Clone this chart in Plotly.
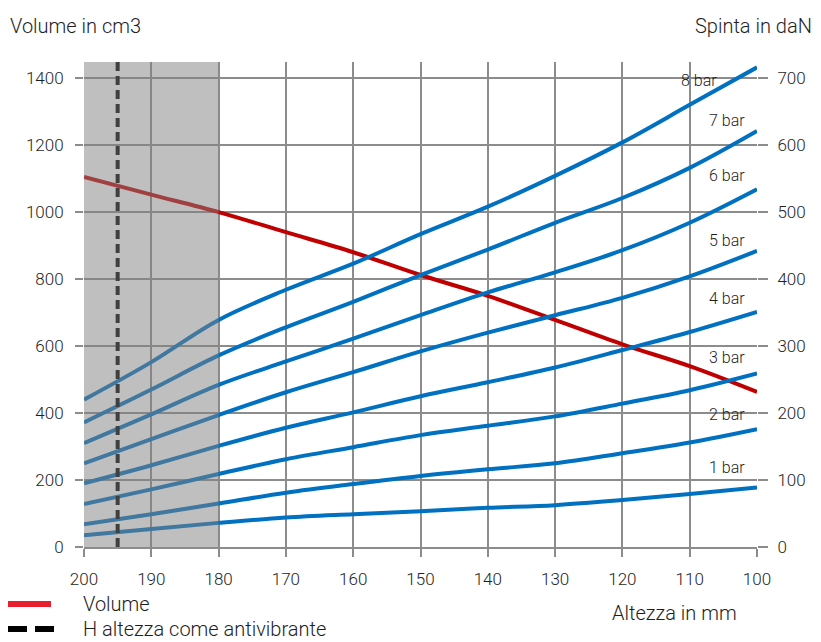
import plotly.graph_objects as go

# ---------------- data ----------------
altezza = [200, 190, 180, 170, 160, 150, 140, 130, 120, 110, 100]
volume = [1105, 1052, 1000, 940, 880, 812, 750, 678, 605, 540, 463]

bar_names = ["1 bar", "2 bar", "3 bar", "4 bar", "5 bar", "6 bar", "7 bar", "8 bar"]
spinta_1 = [17.5, 27, 36, 44, 49, 53.5, 58.5, 62.5, 70, 79, 89]
spinta_2 = [34, 49, 65, 81, 94, 106, 116, 125, 140, 156, 176]
spinta_3 = [64, 86, 109, 131, 149, 167, 181, 195, 214, 234, 259]
spinta_4 = [95, 122, 151, 178, 201, 225, 246, 268, 294, 321, 351]
spinta_5 = [125, 161, 197, 231, 261, 292, 320, 346, 372, 404, 442]
spinta_6 = [155, 198, 242, 277, 311, 346, 380, 410, 443, 484, 534]
spinta_7 = [186, 235, 286, 328, 366, 406, 444, 484, 521, 566, 621]
spinta_8 = [220, 276, 339, 384, 423, 467, 508, 554, 604, 660, 716]
spinta = [spinta_1, spinta_2, spinta_3, spinta_4, spinta_5, spinta_6, spinta_7, spinta_8]

h_antivibrante = 195
zona_x = [200, 180]

x_ticks = [200, 190, 180, 170, 160, 150, 140, 130, 120, 110, 100]
y_ticks = [0, 200, 400, 600, 800, 1000, 1200, 1400]
y2_ticks = [0, 100, 200, 300, 400, 500, 600, 700]

label_x = [101.5, 101.5, 101.5, 101.5, 101.5, 101.5, 101.5, 105.6]
label_y = [236, 397, 567, 743, 916, 1110, 1272, 1394]  # placement of the "n bar" labels

# ---------------- style ----------------
FAM = "Roboto"
TXT = "#1e1e1e"
GRID = "#8c8c8c"
BLUE = "#0070c0"
RED = "#c00000"
Y_MAX = 1448
WEIGHT = 300

# page has an 8px body margin: figure is drawn at (8, 8)
OFF = 8
W, H = 821 - OFF, 642 - OFF
L, R, T, B = 84 - OFF, 64, 62 - OFF, 95
pw, ph = W - L - R, H - T - B


def px2paper(px, py):
    """screen pixel -> paper coordinate"""
    return (px - OFF - L) / pw, (H - B - (py - OFF)) / ph


def fnt(size):
    return dict(family=FAM, size=size, color=TXT, weight=WEIGHT)


fig = go.Figure()

for name, vals in zip(bar_names, spinta):
    fig.add_trace(go.Scatter(x=altezza, y=vals, yaxis="y2", mode="lines", name=name,
                             line=dict(color=BLUE, width=4, shape="spline", smoothing=1.0),
                             showlegend=False))

fig.add_trace(go.Scatter(x=altezza, y=volume, mode="lines", name="Volume",
                         line=dict(color=RED, width=4, shape="spline", smoothing=1.0),
                         showlegend=False))

# dashed antivibration height and shaded zone (shaded zone drawn above the lines)
fig.add_shape(type="line", x0=h_antivibrante, x1=h_antivibrante, xref="x",
              y0=0, y1=1, yref="y domain", layer="above",
              line=dict(color="black", width=4, dash="9px,5px"))
fig.add_shape(type="rect", x0=zona_x[0], x1=zona_x[1], xref="x",
              y0=0, y1=1, yref="y domain", layer="above",
              fillcolor="rgba(128,128,128,0.5)", line=dict(width=0))

# bar labels
for name, lx, ly in zip(bar_names, label_x, label_y):
    fig.add_annotation(x=lx, y=ly, xref="x", yref="y", text=name, showarrow=False,
                       xanchor="right", yanchor="middle", font=fnt(16))

ann_common = dict(showarrow=False, xref="paper", yref="paper", yanchor="middle")
title_font = fnt(20)

for txt, (px, py), anchor in [("Volume in cm3", (8, 26), "left"),
                               ("Spinta in daN", (814, 26), "right"),
                               ("Altezza in mm", (674, 613), "center")]:
    xx, yy = px2paper(px, py)
    fig.add_annotation(x=xx, y=yy, text=txt, xanchor=anchor, font=title_font, **ann_common)

# legend (manual)
x0, y0 = px2paper(8, 604)
x1, _ = px2paper(51, 604)
fig.add_shape(type="line", xref="paper", yref="paper", x0=x0, x1=x1, y0=y0, y1=y0,
              line=dict(color="#e8202e", width=6))
xt, _ = px2paper(81, 604)
fig.add_annotation(x=xt, y=y0, text="Volume", xanchor="left", font=title_font, **ann_common)
x0, y1b = px2paper(8, 629)
x1, _ = px2paper(54, 629)
fig.add_shape(type="line", xref="paper", yref="paper", x0=x0, x1=x1, y0=y1b, y1=y1b,
              line=dict(color="black", width=6, dash="19px,8px"))
fig.add_annotation(x=xt, y=y1b, text="H altezza come antivibrante", xanchor="left",
                   font=title_font, **ann_common)

tick_font = fnt(17)
fig.update_layout(
    width=W, height=H,
    margin=dict(l=L, r=R, t=T, b=B, pad=0),
    paper_bgcolor="white", plot_bgcolor="white",
    font=fnt(17),
    showlegend=False,
    xaxis=dict(range=[200, 100], tickvals=x_ticks, showgrid=True, gridcolor=GRID, gridwidth=2,
               zeroline=False, showline=True, linecolor=GRID, linewidth=2,
               ticks="outside", ticklen=8, tickwidth=2, tickcolor=GRID,
               ticklabelstandoff=8, tickfont=tick_font),
    yaxis=dict(range=[0, Y_MAX], tickvals=y_ticks, showgrid=True, gridcolor=GRID, gridwidth=2,
               zeroline=False, showline=False,
               ticks="outside", ticklen=8, tickwidth=2, tickcolor=GRID,
               ticklabelstandoff=8, tickfont=tick_font),
    yaxis2=dict(range=[0, Y_MAX / 2], tickvals=y2_ticks, overlaying="y", side="right",
                showgrid=False, zeroline=False, showline=False,
                ticks="outside", ticklen=10, tickwidth=2, tickcolor=GRID,
                ticklabelstandoff=6, tickfont=tick_font),
)

fig.write_html("out.html")
